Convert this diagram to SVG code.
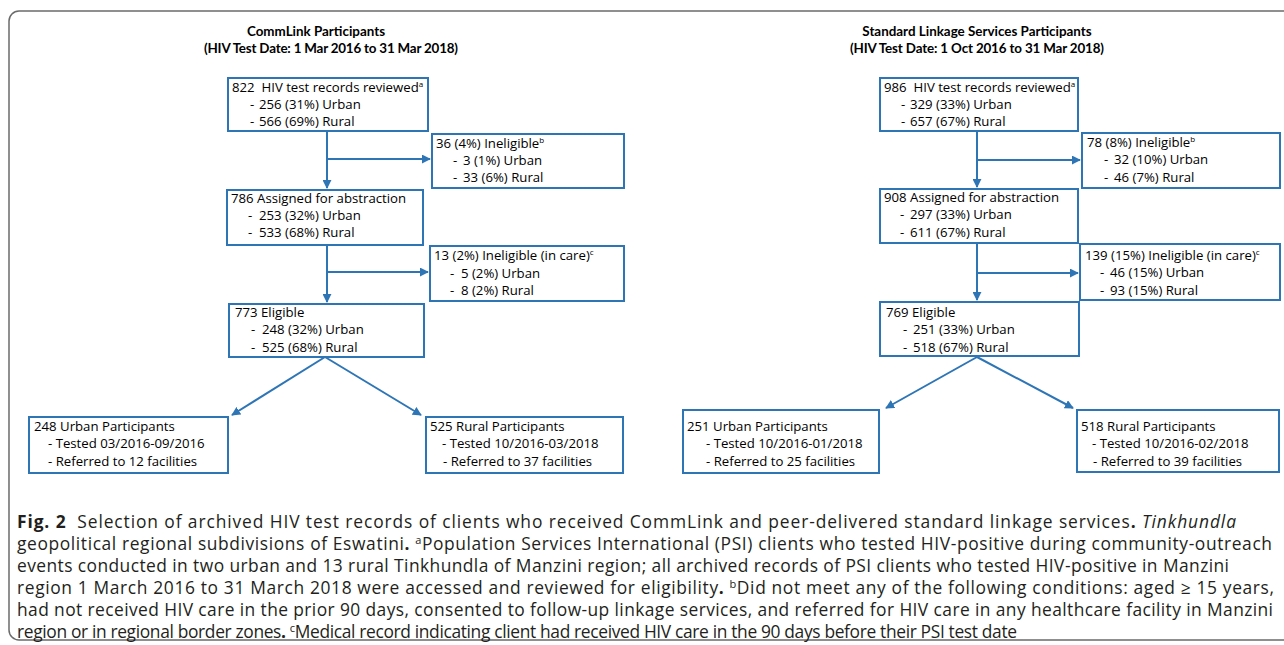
<svg xmlns="http://www.w3.org/2000/svg" width="1284" height="645" viewBox="0 0 1284 645">
<defs>
<style>
.frame{fill:none;stroke:#6b6b6b;stroke-width:1.5}
.box{fill:#fff;stroke:#2e75b6;stroke-width:2}
.t{font-family:"Open Sans","Noto Sans",sans-serif;font-size:13.2px;fill:#000}
.h{font-family:Lato,"Open Sans",sans-serif;font-size:13.4px;font-weight:bold;fill:#000}
.sup{font-size:8px}
.cap{font-family:"Open Sans","Noto Sans",sans-serif;font-size:17.4px;fill:#231f20}
.b{font-weight:bold}
.i{font-style:italic}
.ln{fill:none;stroke:#2e75b6;stroke-width:2}
</style>
<marker id="ah" viewBox="0 0 10 10" refX="9" refY="5" markerWidth="4.5" markerHeight="4.5" orient="auto" markerUnits="strokeWidth">
<path d="M0,0 L10,5 L0,10 z" fill="#2e75b6"/>
</marker>
</defs>
<rect width="1284" height="645" fill="#fff"/>
<rect class="frame" x="9" y="11" width="1320" height="629" rx="10"/>

<g id="titles">
<text class="h" x="316" y="36" text-anchor="middle">CommLink Participants</text>
<text class="h" x="331" y="53" text-anchor="middle" textLength="254">(HIV Test Date: 1 Mar 2016 to 31 Mar 2018)</text>
<text class="h" x="977" y="36" text-anchor="middle">Standard Linkage Services Participants</text>
<text class="h" x="977" y="53" text-anchor="middle" textLength="254">(HIV Test Date: 1 Oct 2016 to 31 Mar 2018)</text>
</g>

<g id="connectors">
<path class="ln" d="M327,131 V188" marker-end="url(#ah)"/>
<path class="ln" d="M327,159 H430" marker-end="url(#ah)"/>
<path class="ln" d="M327,246 V302" marker-end="url(#ah)"/>
<path class="ln" d="M327,272 H428" marker-end="url(#ah)"/>
<path class="ln" d="M325,357 L232,415" marker-end="url(#ah)"/>
<path class="ln" d="M325,357 L421,415" marker-end="url(#ah)"/>
<path class="ln" d="M977,131 V187" marker-end="url(#ah)"/>
<path class="ln" d="M977,160 H1080" marker-end="url(#ah)"/>
<path class="ln" d="M977,244 V300" marker-end="url(#ah)"/>
<path class="ln" d="M977,273 H1078" marker-end="url(#ah)"/>
<path class="ln" d="M977,357 L886,408" marker-end="url(#ah)"/>
<path class="ln" d="M977,357 L1073,408" marker-end="url(#ah)"/>
</g>

<g id="L-reviewed">
<rect class="box" x="228" y="78" width="200" height="53"/>
<text class="t" x="232" y="92">822&#160; HIV test records reviewed<tspan class="sup" dy="-5">a</tspan></text>
<text class="t" y="109"><tspan x="250">-</tspan><tspan x="259">256 (31%) Urban</tspan></text>
<text class="t" y="126"><tspan x="250">-</tspan><tspan x="259">566 (69%) Rural</tspan></text>
</g>
<g id="L-ineligible">
<rect class="box" x="432" y="134" width="192" height="54"/>
<text class="t" x="436" y="148">36 (4%) Ineligible<tspan class="sup" dy="-5">b</tspan></text>
<text class="t" y="165"><tspan x="453">-</tspan><tspan x="463">3 (1%) Urban</tspan></text>
<text class="t" y="182"><tspan x="453">-</tspan><tspan x="463">33 (6%) Rural</tspan></text>
</g>
<g id="L-assigned">
<rect class="box" x="227" y="190" width="196" height="55"/>
<text class="t" x="231" y="203">786 Assigned for abstraction</text>
<text class="t" y="220"><tspan x="248">-</tspan><tspan x="259">253 (32%) Urban</tspan></text>
<text class="t" y="237"><tspan x="248">-</tspan><tspan x="259">533 (68%) Rural</tspan></text>
</g>
<g id="L-incare">
<rect class="box" x="430" y="246" width="194" height="55"/>
<text class="t" x="434" y="260">13 (2%) Ineligible (in care)<tspan class="sup" dy="-5">c</tspan></text>
<text class="t" y="278"><tspan x="450">-</tspan><tspan x="461">5 (2%) Urban</tspan></text>
<text class="t" y="295"><tspan x="450">-</tspan><tspan x="461">8 (2%) Rural</tspan></text>
</g>
<g id="L-eligible">
<rect class="box" x="229" y="304" width="195" height="53"/>
<text class="t" x="235" y="317">773 Eligible</text>
<text class="t" y="334"><tspan x="251">-</tspan><tspan x="262">248 (32%) Urban</tspan></text>
<text class="t" y="352"><tspan x="251">-</tspan><tspan x="262">525 (68%) Rural</tspan></text>
</g>
<g id="L-urban">
<rect class="box" x="29" y="417" width="199" height="56"/>
<text class="t" x="34" y="431">248 Urban Participants</text>
<text class="t" x="48" y="448">- Tested 03/2016-09/2016</text>
<text class="t" x="48" y="466">- Referred to 12 facilities</text>
</g>
<g id="L-rural">
<rect class="box" x="426" y="417" width="197" height="56"/>
<text class="t" x="430" y="431">525 Rural Participants</text>
<text class="t" x="442" y="448">- Tested 10/2016-03/2018</text>
<text class="t" x="443" y="466">- Referred to 37 facilities</text>
</g>

<g id="R-reviewed">
<rect class="box" x="880" y="78" width="198" height="53"/>
<text class="t" x="884" y="92">986&#160; HIV test records reviewed<tspan class="sup" dy="-5">a</tspan></text>
<text class="t" y="109"><tspan x="901">-</tspan><tspan x="910">329 (33%) Urban</tspan></text>
<text class="t" y="126"><tspan x="901">-</tspan><tspan x="910">657 (67%) Rural</tspan></text>
</g>
<g id="R-ineligible">
<rect class="box" x="1082" y="133" width="198" height="55"/>
<text class="t" x="1087" y="147">78 (8%) Ineligible<tspan class="sup" dy="-5">b</tspan></text>
<text class="t" y="164"><tspan x="1104">-</tspan><tspan x="1114">32 (10%) Urban</tspan></text>
<text class="t" y="182"><tspan x="1104">-</tspan><tspan x="1114">46 (7%) Rural</tspan></text>
</g>
<g id="R-assigned">
<rect class="box" x="880" y="189" width="198" height="54"/>
<text class="t" x="884" y="202">908 Assigned for abstraction</text>
<text class="t" y="219"><tspan x="900">-</tspan><tspan x="910">297 (33%) Urban</tspan></text>
<text class="t" y="237"><tspan x="900">-</tspan><tspan x="910">611 (67%) Rural</tspan></text>
</g>
<g id="R-incare">
<rect class="box" x="1080" y="244" width="200" height="56"/>
<text class="t" x="1085" y="260">139 (15%) Ineligible (in care)<tspan class="sup" dy="-5">c</tspan></text>
<text class="t" y="277"><tspan x="1100">-</tspan><tspan x="1110">46 (15%) Urban</tspan></text>
<text class="t" y="295"><tspan x="1100">-</tspan><tspan x="1110">93 (15%) Rural</tspan></text>
</g>
<g id="R-eligible">
<rect class="box" x="880" y="302" width="199" height="54"/>
<text class="t" x="886" y="317">769 Eligible</text>
<text class="t" y="334"><tspan x="903">-</tspan><tspan x="913">251 (33%) Urban</tspan></text>
<text class="t" y="352"><tspan x="903">-</tspan><tspan x="913">518 (67%) Rural</tspan></text>
</g>
<g id="R-urban">
<rect class="box" x="683" y="410" width="196" height="63"/>
<text class="t" x="687" y="431">251 Urban Participants</text>
<text class="t" x="706" y="448">- Tested 10/2016-01/2018</text>
<text class="t" x="706" y="466">- Referred to 25 facilities</text>
</g>
<g id="R-rural">
<rect class="box" x="1077" y="410" width="202" height="62"/>
<text class="t" x="1081" y="431">518 Rural Participants</text>
<text class="t" x="1092" y="448">- Tested 10/2016-02/2018</text>
<text class="t" x="1093" y="466">- Referred to 39 facilities</text>
</g>

<g id="caption">
<text class="cap" x="17" y="528" textLength="1219"><tspan class="b">Fig. 2</tspan>&#160; Selection of archived HIV test records of clients who received CommLink and peer-delivered standard linkage services<tspan class="b">.</tspan> <tspan class="i">Tinkhundla</tspan></text>
<text class="cap" x="17" y="550" textLength="1255">geopolitical regional subdivisions of Eswatini<tspan class="b">.</tspan> <tspan font-size="11" dy="-6">a</tspan><tspan dy="6">Population Services International (PSI) clients who tested HIV-positive during community-outreach</tspan></text>
<text class="cap" x="17" y="572" textLength="1212">events conducted in two urban and 13 rural Tinkhundla of Manzini region; all archived records of PSI clients who tested HIV-positive in Manzini</text>
<text class="cap" x="17" y="594" textLength="1257">region 1 March 2016 to 31 March 2018 were accessed and reviewed for eligibility<tspan class="b">.</tspan> <tspan font-size="11" dy="-6">b</tspan><tspan dy="6">Did not meet any of the following conditions: aged ≥ 15 years,</tspan></text>
<text class="cap" x="17" y="616" textLength="1256">had not received HIV care in the prior 90 days, consented to follow-up linkage services, and referred for HIV care in any healthcare facility in Manzini</text>
<text class="cap" x="17" y="638" textLength="1000">region or in regional border zones<tspan class="b">.</tspan> <tspan font-size="11" dy="-6">c</tspan><tspan dy="6">Medical record indicating client had received HIV care in the 90 days before their PSI test date</tspan></text>
</g>
</svg>
